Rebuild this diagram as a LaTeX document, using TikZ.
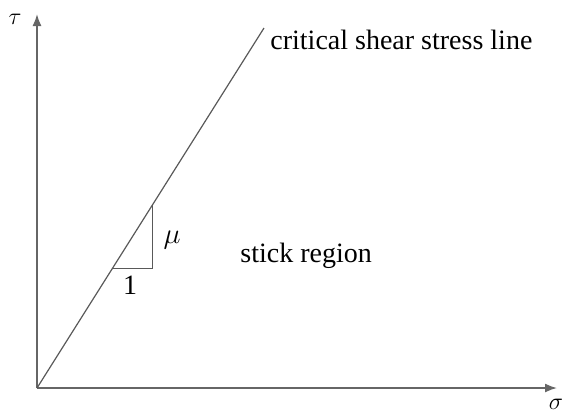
\documentclass[tikz,border=0pt]{standalone}
\usepackage{amsmath}
\usepackage{fontspec}
\setmainfont{Liberation Serif}
\usetikzlibrary{positioning, arrows.meta, calc}

\begin{document}
\begin{tikzpicture}[x=0.5pt, y=-0.5pt,
    axis/.style={draw=black!60, line width=0.8pt, -{Latex[length=6pt, width=4.5pt]}},
    slope/.style={draw=black!65, line width=0.6pt},
    lbl/.style={font=\fontsize{14}{16}\selectfont, inner sep=1pt},
    sym/.style={font=\fontsize{12}{14}\selectfont, inner sep=1pt}]
\useasboundingbox (0,0) rectangle (567,414);

\coordinate (O) at (37,388);
\coordinate (E) at (264,28);

% axes
\draw[axis] (O) -- (37,14) coordinate (ytop);
\draw[axis] (O) -- (557,388) coordinate (xend);
\node[sym] (tau) at (15,19) {$\tau$};
\node[sym] (sigma) at (556,404) {$\sigma$};

% critical line and slope triangle
\draw[slope] (O) -- (E);
\node[lbl, anchor=west] (crit) at (268,40) {critical shear stress line};

\coordinate (tl) at ($(O)!0.331!(E)$);
\coordinate (tt) at ($(O)!0.508!(E)$);
\coordinate (tc) at (tt |- tl);
\draw[slope] (tl) -- (tc) -- (tt);
\node[lbl] (mu) at (172,240) {$\mu$};
\node[lbl] (one) at ($(tl)!0.5!(tc)+(-2,16)$) {1};

\node[lbl, anchor=west] (stick) at (238,256) {stick region};
\end{tikzpicture}
\end{document}
